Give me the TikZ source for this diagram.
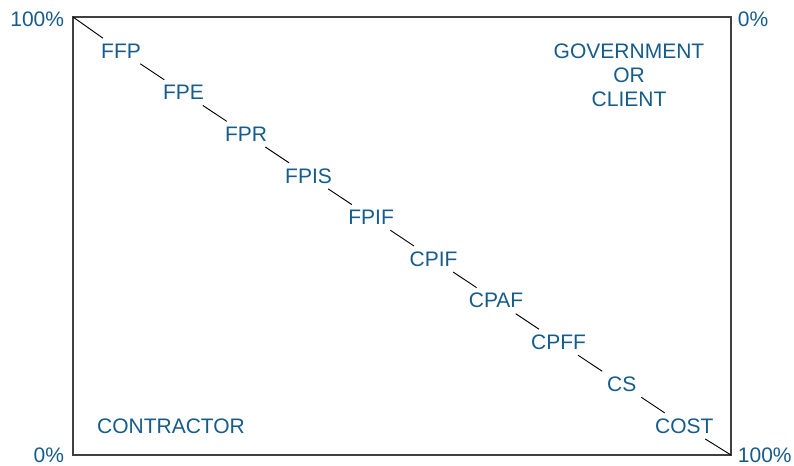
\documentclass[tikz,border=0pt]{standalone}
\usepackage{fontspec}
\setmainfont{Liberation Sans}
\usepackage{xcolor}
\usepackage{tikz}
\usetikzlibrary{positioning,calc}
\definecolor{ctblue}{RGB}{22,92,138}

\begin{document}
\begin{tikzpicture}[
    x=0.75pt,y=-0.75pt,
    lbl/.style={text=ctblue,font=\fontsize{15.75}{18}\selectfont,inner sep=4pt},
    dlbl/.style={lbl,yshift=-1.5pt},
    frame/.style={draw=black!75,line width=1.1pt},
    diag/.style={draw=black,line width=0.7pt}
  ]
    \useasboundingbox (0,0) rectangle (794,465);
    \coordinate (tl) at (73,17);
    \coordinate (tr) at (731,17);
    \coordinate (br) at (731,455);
    \coordinate (bl) at (73,455);
    \draw[frame] (tl) rectangle (br);

    % contract types along the diagonal
    \node[dlbl] (ffp)  at ($(tl)!0.073!(br)$) {FFP};
    \node[dlbl] (fpe)  at ($(tl)!0.168!(br)$) {FPE};
    \node[dlbl] (fpr)  at ($(tl)!0.263!(br)$) {FPR};
    \node[dlbl] (fpis) at ($(tl)!0.358!(br)$) {FPIS};
    \node[dlbl] (fpif) at ($(tl)!0.453!(br)$) {FPIF};
    \node[dlbl] (cpif) at ($(tl)!0.548!(br)$) {CPIF};
    \node[dlbl] (cpaf) at ($(tl)!0.643!(br)$) {CPAF};
    \node[dlbl] (cpff) at ($(tl)!0.738!(br)$) {CPFF};
    \node[dlbl] (cs)   at ($(tl)!0.834!(br)$) {CS};
    \node[dlbl] (cost) at ($(tl)!0.929!(br)$) {COST};

    % percentages at the corners
    \node[lbl,left=2.5pt of tl,yshift=-1.5pt] (pcttl) {100\%};
    \node[lbl,right=1pt of tr,yshift=-1.5pt] (pcttr) {0\%};
    \node[lbl,left=2.5pt of bl] (pctbl) {0\%};
    \node[lbl,right=1pt of br] (pctbr) {100\%};

    % parties
    \node[lbl,align=center] (gov) at (629,75) {GOVERNMENT\\OR\\CLIENT};
    \node[lbl] (contr) at (171,426) {CONTRACTOR};

    \draw[diag] (tl) -- (ffp) -- (fpe) -- (fpr) -- (fpis) -- (fpif)
      -- (cpif) -- (cpaf) -- (cpff) -- (cs) -- (cost) -- (br);
  \end{tikzpicture}
\end{document}
